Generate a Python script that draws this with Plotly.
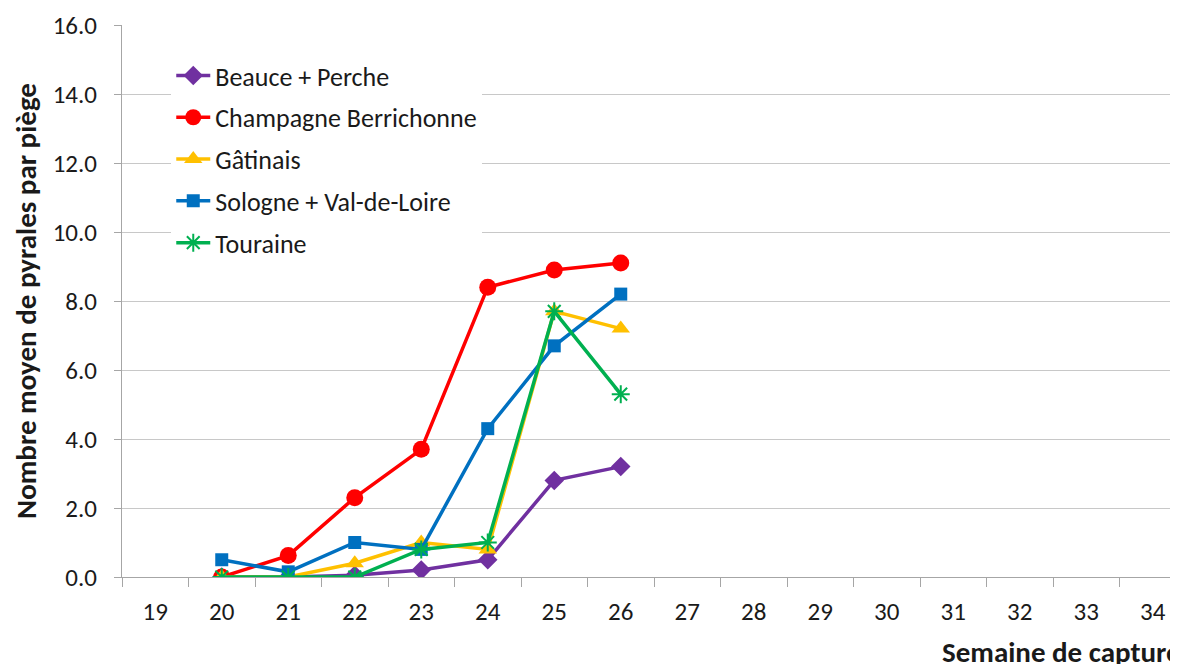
import plotly.graph_objects as go

weeks = [20, 21, 22, 23, 24, 25, 26]
beauce_perche = [0.0, 0.0, 0.05, 0.2, 0.5, 2.8, 3.2]
champagne_berrichonne = [0.0, 0.62, 2.3, 3.7, 8.4, 8.9, 9.1]
gatinais = [0.0, 0.0, 0.4, 1.0, 0.8, 7.7, 7.2]
sologne_val_de_loire = [0.5, 0.15, 1.0, 0.8, 4.3, 6.7, 8.2]
touraine = [0.0, 0.0, 0.0, 0.8, 1.0, 7.7, 5.3]

x_ticks = list(range(19, 35))
y_ticks = [0, 2, 4, 6, 8, 10, 12, 14, 16]

FONT = "Carlito, Lato, sans-serif"

series = [
    ("Beauce + Perche", beauce_perche, "#7030A0", dict(symbol="diamond", size=15)),
    ("Champagne Berrichonne", champagne_berrichonne, "#FF0000", dict(symbol="circle", size=17)),
    ("Gâtinais", gatinais, "#FFC000", dict(symbol="triangle-up", size=16)),
    ("Sologne + Val-de-Loire", sologne_val_de_loire, "#0070C0", dict(symbol="square", size=13)),
    ("Touraine", touraine, "#00B050", dict(symbol="asterisk-open", size=15)),
]

fig = go.Figure()
for name, vals, color, mk in series:
    marker = dict(symbol=mk["symbol"], size=mk["size"], color=color,
                  line=dict(color=color, width=2 if "asterisk" in mk["symbol"] else 0))
    fig.add_trace(go.Scatter(
        x=weeks, y=vals, name=name, mode="lines+markers",
        line=dict(color=color, width=3.5), marker=marker,
        legendgroup=name,
    ))

W, H = 1162, 656
ML, MR, MT, MB = 114, 0, 17, 87
plot_w = W - ML - MR
plot_h = H - MT - MB
x_left = 18.5
x_right = x_left + plot_w / 66.5

fig.update_layout(
    width=W, height=H,
    margin=dict(l=ML, r=MR, t=MT, b=MB),
    paper_bgcolor="white", plot_bgcolor="white",
    font=dict(family=FONT, size=25, color="#1a1a1a"),
    showlegend=True,
    legend=dict(
        x=0.047, y=0.951, xanchor="left", yanchor="top",
        bgcolor="white", font=dict(family=FONT, size=26, color="#1a1a1a"),
        tracegroupgap=5, traceorder="grouped", itemwidth=34,
    ),
    xaxis=dict(
        range=[x_left, x_right], tickmode="array", tickvals=x_ticks,
        ticktext=[str(v) for v in x_ticks], ticks="", showgrid=False,
        showline=True, linecolor="#a6a6a6", linewidth=1, zeroline=False,
        tickfont=dict(family=FONT, size=25, color="#1a1a1a"),
        ticklabelstandoff=12,
        minor=dict(ticks="outside", tick0=18.5, dtick=1, ticklen=9,
                   tickcolor="#a6a6a6", tickwidth=1, showgrid=False),
    ),
    yaxis=dict(
        range=[0, 16], tickmode="array", tickvals=y_ticks,
        ticktext=[f"{v:.1f}" for v in y_ticks],
        showgrid=True, gridcolor="#c8c8c8", gridwidth=1,
        showline=True, linecolor="#a6a6a6", linewidth=1, zeroline=False,
        ticks="outside", ticklen=7, tickcolor="#a6a6a6",
        tickfont=dict(family=FONT, size=25, color="#1a1a1a"),
        ticklabelstandoff=12,
        title=dict(text="<b>Nombre moyen de pyrales par piège</b>",
                   font=dict(family=FONT, size=29, color="#1a1a1a"), standoff=21),
    ),
    annotations=[dict(
        text="<b>Semaine de capture</b>", xref="paper", yref="paper",
        x=(940 - 122) / plot_w, y=(577 - 652) / plot_h, xanchor="left", yanchor="middle",
        showarrow=False, font=dict(family=FONT, size=29, color="#1a1a1a"),
    )],
)

fig.write_html("out.html")
